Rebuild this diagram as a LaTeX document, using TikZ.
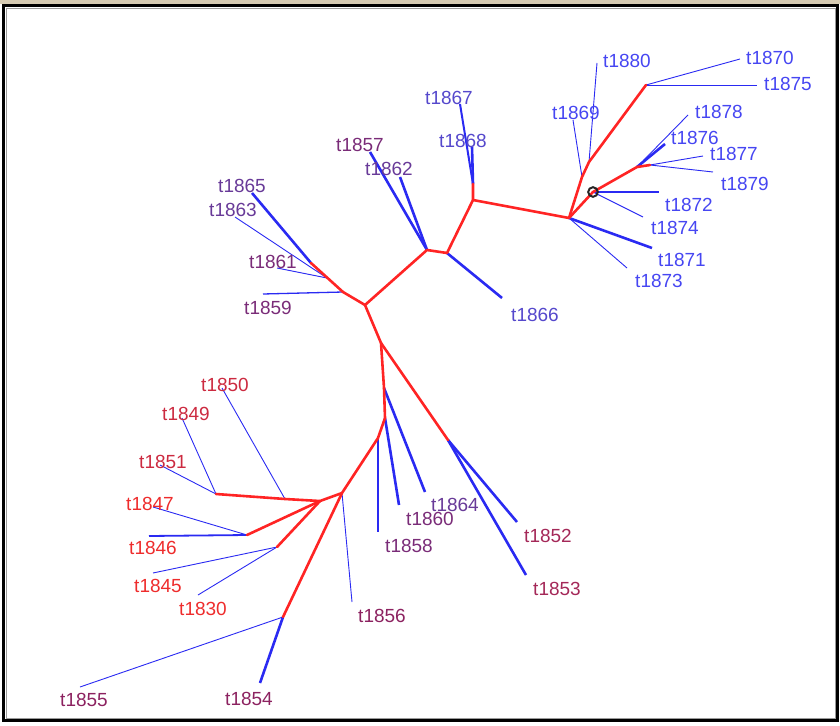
\documentclass[tikz,border=0pt]{standalone}
\usepackage{fontspec}
\setmainfont{Liberation Sans}
\definecolor{branchred}{HTML}{FF2424}
\definecolor{branchblue}{HTML}{2A2AF2}
\definecolor{framegrey}{HTML}{9A9A9A}
\definecolor{titlebar}{HTML}{D6CBB3}
% label colours, by year
\definecolor{yrred}{HTML}{EE2C2C}
\definecolor{yrcrimson}{HTML}{CC2A40}
\definecolor{yrrose}{HTML}{A42858}
\definecolor{yrmaroon}{HTML}{8C2260}
\definecolor{yrplum}{HTML}{7A2C78}
\definecolor{yrviolet}{HTML}{683A98}
\definecolor{yrindigo}{HTML}{5548CC}
\definecolor{yrblue}{HTML}{4646F2}

\begin{document}
\begin{tikzpicture}[
  x=1pt, y=-1pt,
  every node/.style={font=\fontsize{19}{20}\selectfont, inner sep=0pt},
  trunk/.style={draw=branchred, line width=2.6pt, line cap=round, line join=round},
  leaf/.style={draw=branchblue, line width=0.9pt},
  leafbold/.style={draw=branchblue, line width=2.6pt}
]
\useasboundingbox (0,0) rectangle (840,725);

% window frame
\fill[titlebar] (0,0) rectangle (840,4);
\draw[framegrey, line width=1pt] (6,8.5) rectangle (835,718.5);
\draw[black, line width=2.5pt] (3.5,5.5) rectangle (837.5,720.5);

% inner vertices
\coordinate (c0) at (365,305);
\coordinate (l1) at (343,292);
\coordinate (l3) at (327,278);
\coordinate (l2) at (311,263);
\coordinate (m1) at (427,250);
\coordinate (m2) at (447,253);
\coordinate (m3) at (473,200);
\coordinate (m4) at (473,184);
\coordinate (r1) at (569,218);
\coordinate (r2) at (582,177);
\coordinate (r3) at (589,162);
\coordinate (r4) at (646,85);
\coordinate (r5) at (593,192);
\coordinate (r6) at (637,167);
\coordinate (r7) at (650,165);
\coordinate (d1) at (381,343);
\coordinate (d2) at (384,388);
\coordinate (d3) at (385,418);
\coordinate (d4) at (378,438);
\coordinate (d5) at (448,440);
\coordinate (s1) at (342,493);
\coordinate (s2) at (320,501);
\coordinate (s3) at (285,499);
\coordinate (s4) at (216,494);
\coordinate (s5) at (247,535);
\coordinate (s6) at (277,547);
\coordinate (s7) at (283,617);

% leaf ends
\coordinate (e1830) at (198,595);
\coordinate (e1845) at (153,573);
\coordinate (e1846) at (149,536);
\coordinate (e1847) at (153,507);
\coordinate (e1849) at (182,418);
\coordinate (e1850) at (222,388);
\coordinate (e1851) at (160,465);
\coordinate (e1852) at (517,522);
\coordinate (e1853) at (526,575);
\coordinate (e1854) at (260,683);
\coordinate (e1855) at (80,687);
\coordinate (e1856) at (352,602);
\coordinate (e1857) at (370,152);
\coordinate (e1858) at (378,532);
\coordinate (e1859) at (263,294);
\coordinate (e1860) at (399,505);
\coordinate (e1861) at (277,268);
\coordinate (e1862) at (400,177);
\coordinate (e1863) at (235,217);
\coordinate (e1864) at (425,492);
\coordinate (e1865) at (252,193);
\coordinate (e1866) at (502,298);
\coordinate (e1867) at (460,104);
\coordinate (e1868) at (472,147);
\coordinate (e1869) at (573,120);
\coordinate (e1870) at (740,59);
\coordinate (e1871) at (652,248);
\coordinate (e1872) at (659,192);
\coordinate (e1873) at (627,268);
\coordinate (e1874) at (643,217);
\coordinate (e1875) at (757,85);
\coordinate (e1876) at (665,144);
\coordinate (e1877) at (703,156);
\coordinate (e1878) at (688,115);
\coordinate (e1879) at (713,172);
\coordinate (e1880) at (597,63);

% pendant edges
\draw[leafbold] (l2) -- (e1865);
\draw[leaf] (l3) -- (e1863);
\draw[leaf] (l3) -- (e1861);
\draw[leaf, line width=1.3pt] (l1) -- (e1859);
\draw[leafbold] (m1) -- (e1857);
\draw[leafbold] (m1) -- (e1862);
\draw[leafbold] (m2) -- (e1866);
\draw[leafbold, line width=2pt] (m4) -- (e1867);
\draw[leafbold] (m4) -- (e1868);
\draw[leafbold] (r1) -- (e1871);
\draw[leaf] (r1) -- (e1873);
\draw[leaf] (r2) -- (e1869);
\draw[leaf] (r3) -- (e1880);
\draw[leaf] (r4) -- (e1870);
\draw[leaf] (r4) -- (e1875);
\draw[leafbold] (r6) -- (e1876);
\draw[leaf] (r6) -- (e1878);
\draw[leaf] (r7) -- (e1877);
\draw[leaf] (r7) -- (e1879);
\draw[leafbold] (r5) -- (e1872);
\draw[leaf] (r5) -- (e1874);
\draw[leafbold] (d2) -- (e1864);
\draw[leafbold] (d3) -- (e1860);
\draw[leafbold] (d4) -- (e1858);
\draw[leafbold] (d5) -- (e1852);
\draw[leafbold] (d5) -- (e1853);
\draw[leaf] (s1) -- (e1856);
\draw[leaf] (s3) -- (e1850);
\draw[leaf] (s4) -- (e1849);
\draw[leaf] (s4) -- (e1851);
\draw[leaf] (s5) -- (e1847);
\draw[leaf, line width=1.8pt] (s5) -- (e1846);
\draw[leaf] (s6) -- (e1845);
\draw[leaf] (s6) -- (e1830);
\draw[leaf] (s7) -- (e1855);
\draw[leafbold] (s7) -- (e1854);

% internal edges
\draw[trunk] (l2) -- (l1) -- (c0) -- (m1) -- (m2) -- (m3) -- (m4);
\draw[trunk] (m3) -- (r1) -- (r2) -- (r3) -- (r4);
\draw[trunk] (r1) -- (r5) -- (r6) -- (r7);
\draw[trunk] (c0) -- (d1) -- (d2) -- (d3) -- (d4) -- (s1) -- (s7);
\draw[trunk] (d1) -- (d5);
\draw[trunk] (s1) -- (s2) -- (s3) -- (s4);
\draw[trunk] (s2) -- (s5);
\draw[trunk] (s2) -- (s6);

% marker
\draw[black!85, line width=2pt] (r5) circle (4.8);

% labels
\node[text=yrblue] (t1870) at (770,58) {t1870};
\node[text=yrblue] (t1875) at (788,84) {t1875};
\node[text=yrblue] (t1880) at (627,61) {t1880};
\node[text=yrblue] (t1869) at (576,113) {t1869};
\node[text=yrblue] (t1878) at (719,112) {t1878};
\node[text=yrblue] (t1876) at (695,138) {t1876};
\node[text=yrblue] (t1877) at (734,154) {t1877};
\node[text=yrblue] (t1879) at (745,184) {t1879};
\node[text=yrblue] (t1872) at (689,205) {t1872};
\node[text=yrblue] (t1874) at (675,228) {t1874};
\node[text=yrblue] (t1871) at (682,260) {t1871};
\node[text=yrblue] (t1873) at (659,281) {t1873};
\node[text=yrindigo] (t1867) at (449,98) {t1867};
\node[text=yrindigo] (t1868) at (463,141) {t1868};
\node[text=yrindigo] (t1866) at (535,315) {t1866};
\node[text=yrplum] (t1857) at (360,145) {t1857};
\node[text=yrviolet] (t1862) at (389,169) {t1862};
\node[text=yrviolet] (t1865) at (242,186) {t1865};
\node[text=yrviolet] (t1863) at (233,210) {t1863};
\node[text=yrplum] (t1861) at (273,262) {t1861};
\node[text=yrplum] (t1859) at (268,308) {t1859};
\node[text=yrcrimson] (t1850) at (225,385) {t1850};
\node[text=yrcrimson] (t1849) at (186,414) {t1849};
\node[text=yrcrimson] (t1851) at (163,462) {t1851};
\node[text=yrred] (t1847) at (150,504) {t1847};
\node[text=yrred] (t1846) at (153,548) {t1846};
\node[text=yrred] (t1845) at (158,586) {t1845};
\node[text=yrred] (t1830) at (203,609) {t1830};
\node[text=yrmaroon] (t1856) at (382,616) {t1856};
\node[text=yrplum] (t1858) at (409,546) {t1858};
\node[text=yrplum] (t1860) at (430,519) {t1860};
\node[text=yrviolet] (t1864) at (455,505) {t1864};
\node[text=yrrose] (t1852) at (548,536) {t1852};
\node[text=yrrose] (t1853) at (557,589) {t1853};
\node[text=yrmaroon] (t1855) at (84,700) {t1855};
\node[text=yrmaroon] (t1854) at (249,699) {t1854};
\end{tikzpicture}
\end{document}
